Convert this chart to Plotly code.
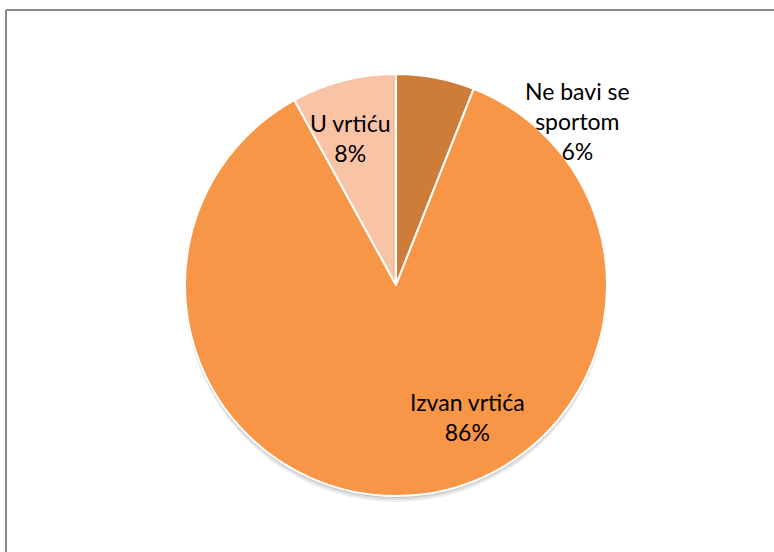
import plotly.graph_objects as go

labels = ["Ne bavi se sportom", "Izvan vrtića", "U vrtiću"]
display_labels = ["Ne bavi se<br>sportom", "Izvan vrtića", "U vrtiću"]
values = [6, 86, 8]
colors = ["#CD7C3A", "#F79646", "#F9C3A5"]

W, H = 774, 552
cx, cy, R = 396, 285, 211

fig = go.Figure()
fig.add_trace(go.Pie(
    labels=labels, values=values, sort=False, direction="clockwise", rotation=0,
    marker=dict(colors=colors, line=dict(color="white", width=2)),
    textinfo="none", hoverinfo="label+percent", showlegend=False,
    domain=dict(x=[(cx - R) / W, (cx + R) / W], y=[(H - cy - R) / H, (H - cy + R) / H]),
))

total = sum(values)
label_pos = [(577, 121), (467, 417), (350, 138)]
anns = []
for lab, v, (x, y) in zip(display_labels, values, label_pos):
    anns.append(dict(
        text=f"{lab}<br>{round(100 * v / total)}%", x=x / W, y=1 - y / H,
        xref="paper", yref="paper", showarrow=False, xanchor="center", yanchor="middle",
        font=dict(family="Lato, Open Sans, sans-serif", size=23, color="#000000"),
    ))

shapes = []
# soft drop shadow under the pie
for off, op in [(6, 0.06), (4, 0.08), (2, 0.10)]:
    shapes.append(dict(type="circle", xref="paper", yref="paper", layer="below",
                       x0=(cx - R) / W, x1=(cx + R) / W,
                       y0=(H - cy - R - off) / H, y1=(H - cy + R - off) / H,
                       fillcolor=f"rgba(0,0,0,{op})", line=dict(width=0)))
# frame
shapes.append(dict(type="line", xref="paper", yref="paper", x0=6 / W, x1=1, y0=1 - 10 / H, y1=1 - 10 / H,
                   line=dict(color="#8A8A8A", width=2)))
shapes.append(dict(type="line", xref="paper", yref="paper", x0=6 / W, x1=6 / W, y0=0, y1=1 - 10 / H,
                   line=dict(color="#8A8A8A", width=2)))

fig.update_layout(
    width=W, height=H, margin=dict(l=0, r=0, t=0, b=0),
    paper_bgcolor="white", plot_bgcolor="white",
    annotations=anns, shapes=shapes,
)
fig.write_html("out.html", config={"displayModeBar": False},
               post_script="document.body.style.margin='0px';document.body.style.overflow='hidden';")
